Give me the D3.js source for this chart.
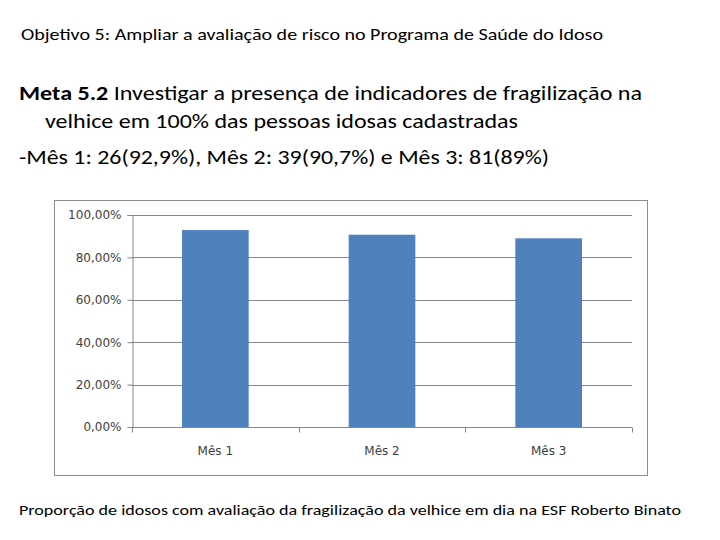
<!DOCTYPE html>
<html>
<head>
<meta charset="utf-8">
<script src="https://cdn.jsdelivr.net/npm/d3@7"></script>
<style>
  body { margin: 0; background: #fff; }
  svg { display: block; }
</style>
</head>
<body>
<div id="chart"></div>
<script>
// Chart data
const categories = ["Mês 1", "Mês 2", "Mês 3"];
const values = [92.9, 90.7, 89.0];
const yTicks = [0, 20, 40, 60, 80, 100];

const font = "Carlito, 'Open Sans', 'DejaVu Sans', sans-serif";
const axisFont = "'DejaVu Sans', sans-serif";

const svg = d3
  .select("#chart")
  .append("svg")
  .attr("width", 720)
  .attr("height", 540);

// Texts above the chart, stretched to match the original widths
function addText(x, y, size, width, parts) {
  const t = svg
    .append("text")
    .attr("x", x)
    .attr("y", y)
    .attr("font-family", font)
    .attr("font-size", size)
    .attr("fill", "#000")
    .attr("textLength", width)
    .attr("lengthAdjust", "spacingAndGlyphs");
  parts.forEach((p) => {
    t.append("tspan")
      .attr("font-weight", p.bold ? "bold" : "normal")
      .text(p.text);
  });
}

addText(21, 40, 16, 582, [
  { text: "Objetivo 5: Ampliar a avaliação de risco no Programa de Saúde do Idoso" },
]);
addText(19, 100, 21, 623, [
  { text: "Meta 5.2", bold: true },
  { text: " Investigar a presença de indicadores de fragilização na" },
]);
addText(45, 128, 21, 473, [
  { text: "velhice em 100% das pessoas idosas cadastradas" },
]);
addText(19, 164, 21, 530, [
  { text: "-Mês 1: 26(92,9%), Mês 2: 39(90,7%) e Mês 3: 81(89%)" },
]);
addText(19, 515, 15, 662, [
  { text: "Proporção de idosos com avaliação da fragilização da velhice em dia na ESF Roberto Binato" },
]);

// Chart frame
svg
  .append("rect")
  .attr("x", 54.5)
  .attr("y", 200.5)
  .attr("width", 593)
  .attr("height", 275)
  .attr("fill", "#fff")
  .attr("stroke", "#8c8c8c");

const plot = { left: 132, right: 632, top: 215, bottom: 427 };

const x = d3
  .scaleBand()
  .domain(categories)
  .range([plot.left, plot.right])
  .paddingInner(0.6)
  .paddingOuter(0.3);

const y = d3.scaleLinear().domain([0, 100]).range([plot.bottom, plot.top]);

// Gridlines
svg
  .append("g")
  .selectAll("line")
  .data(yTicks.filter((d) => d > 0))
  .enter()
  .append("line")
  .attr("x1", plot.left)
  .attr("x2", plot.right)
  .attr("y1", (d) => Math.round(y(d)) + 0.5)
  .attr("y2", (d) => Math.round(y(d)) + 0.5)
  .style("stroke", "#878787");

// Bars
svg
  .append("g")
  .selectAll("rect")
  .data(values)
  .enter()
  .append("rect")
  .attr("x", (d, i) => x(categories[i]))
  .attr("y", (d) => y(d))
  .attr("width", x.bandwidth())
  .attr("height", (d) => plot.bottom - y(d))
  .attr("fill", "#4f81bd");

// Y axis
const yAxis = svg
  .append("g")
  .attr("transform", `translate(${plot.left + 0.5},0)`)
  .call(
    d3
      .axisLeft(y)
      .tickValues(yTicks)
      .tickSize(5)
      .tickPadding(6)
      .tickFormat((d) => d.toFixed(2).replace(".", ",") + "%")
  );
yAxis.attr("font-family", axisFont).attr("font-size", 12);
yAxis.select(".domain").style("stroke", "#878787");
yAxis.selectAll(".tick line").style("stroke", "#878787");
yAxis.selectAll("text").attr("fill", "#404040");

// X axis with tick marks at category boundaries
const xAxis = svg
  .append("g")
  .attr("transform", `translate(0,${plot.bottom + 0.5})`);
xAxis
  .append("line")
  .attr("x1", plot.left)
  .attr("x2", plot.right)
  .style("stroke", "#878787");
const bounds = d3
  .range(categories.length + 1)
  .map((i) => plot.left + (i * (plot.right - plot.left)) / categories.length);
xAxis
  .selectAll(".bnd")
  .data(bounds)
  .enter()
  .append("line")
  .attr("x1", (d) => Math.round(d) + 0.5)
  .attr("x2", (d) => Math.round(d) + 0.5)
  .attr("y1", 0)
  .attr("y2", 5)
  .style("stroke", "#878787");
xAxis
  .selectAll("text")
  .data(categories)
  .enter()
  .append("text")
  .attr("x", (d) => x(d) + x.bandwidth() / 2)
  .attr("y", 27)
  .attr("text-anchor", "middle")
  .attr("font-family", axisFont)
  .attr("font-size", 12)
  .attr("fill", "#404040")
  .text((d) => d);
</script>
</body>
</html>
